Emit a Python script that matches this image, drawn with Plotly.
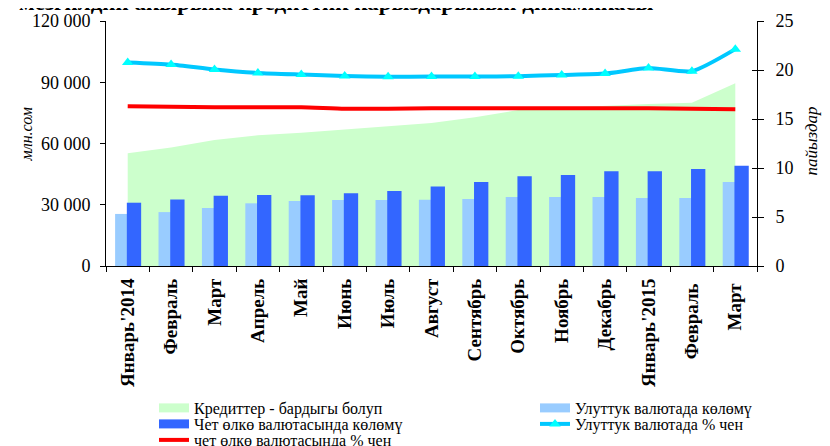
import plotly.graph_objects as go

months = ["Январь'2014", "Февраль", "Март", "Апрель", "Май", "Июнь", "Июль", "Август",
          "Сентябрь", "Октябрь", "Ноябрь", "Декабрь", "Январь'2015", "Февраль ", "Март "]
total_credit = [55200, 58100, 61700, 64000, 65300, 66900, 68200, 70000,
                72800, 76400, 77500, 78500, 79300, 80000, 89500]
national_volume = [25500, 26400, 28400, 30700, 31800, 32300, 32300, 32500,
                   32800, 33800, 33800, 33800, 33300, 33300, 41100]
foreign_volume = [31000, 32600, 34400, 34800, 34600, 35600, 36700, 39000,
                  41100, 43900, 44600, 46400, 46400, 47500, 49100]
national_pct = [20.77, 20.56, 20.05, 19.7, 19.54, 19.4, 19.3, 19.33,
                19.33, 19.36, 19.5, 19.64, 20.2, 19.88, 22.13]
foreign_pct = [16.3, 16.25, 16.2, 16.2, 16.2, 16.05, 16.05, 16.1,
               16.1, 16.1, 16.1, 16.1, 16.1, 16.05, 16.0]
left_ticks = [0, 30000, 60000, 90000, 120000]
left_tick_text = ["0", "30 000", "60 000", "90 000", "120 000"]

names = ["Кредиттер - бардыгы болуп", "Улуттук валютада көлөмү", "Чет өлкө валютасында көлөмү",
         "Улуттук валютада % чен", "чет өлкө валютасында % чен"]

GREEN = "#CCFFCC"
LIGHT = "#99CCFF"
DARK = "#3366FF"
CYAN = "#00C8FF"
RED = "#FF0000"
FONT = "Liberation Serif"

# the page body adds an 8px offset; figure is sized so the plot area lands at
# page x 106..757, y 21..266
OFF = 8
W, H = 830 - OFF, 446 - OFF
L, R, T, B = 106 - OFF, 830 - 757, 21 - OFF, 446 - 266
PW, PH = W - L - R, H - T - B


def px(x):  # page x -> paper
    return (x - OFF - L) / PW


def py(y):  # page y -> paper
    return (H - B - (y - OFF)) / PH


fig = go.Figure()

fig.add_trace(go.Scatter(x=months, y=total_credit, mode="lines", fill="tozeroy",
                         fillcolor=GREEN, line=dict(width=0, color=GREEN),
                         showlegend=False, yaxis="y", hoverinfo="skip"))
fig.add_trace(go.Bar(x=months, y=national_volume, marker=dict(color=LIGHT, line=dict(width=0)),
                     offset=-0.29, width=0.33, showlegend=False, yaxis="y2"))
fig.add_trace(go.Bar(x=months, y=foreign_volume, marker=dict(color=DARK, line=dict(width=0)),
                     offset=-0.02, width=0.33, showlegend=False, yaxis="y2"))
fig.add_trace(go.Scatter(x=months, y=national_pct, mode="lines+markers", name=names[3],
                         line=dict(color=CYAN, width=4, shape="spline", smoothing=0.6),
                         marker=dict(symbol="triangle-up", size=10, color="#00FFFF"),
                         yaxis="y3", legend="legend4"))
fig.add_trace(go.Scatter(x=months, y=foreign_pct, mode="lines", name=names[4],
                         line=dict(color=RED, width=4, shape="spline", smoothing=0.6),
                         yaxis="y3", legend="legend5"))
# right-axis inner ticks carrier
fig.add_trace(go.Scatter(x=[None], y=[None], yaxis="y4", showlegend=False, hoverinfo="skip"))

# legend swatches for the area and bars
for nm, col, lg in [(names[0], GREEN, "legend"), (names[1], LIGHT, "legend2"), (names[2], DARK, "legend3")]:
    fig.add_trace(go.Scatter(x=[None], y=[None], mode="lines", name=nm,
                             line=dict(color=col, width=9), yaxis="y", legend=lg))

row_y = [408, 424, 440]
col_x = [194, 575]


def leg(xt, yc):
    return dict(x=px(xt - 40), y=py(yc), xanchor="left", yanchor="middle",
                orientation="h", bgcolor="rgba(0,0,0,0)",
                font=dict(family=FONT, size=16, color="black"))


fig.update_layout(
    width=W, height=H, margin=dict(l=L, r=R, t=T, b=B, autoexpand=False),
    plot_bgcolor="white", paper_bgcolor="white",
    font=dict(family=FONT, size=18, color="black"),
    barmode="overlay",
    xaxis=dict(type="category", categoryorder="array", categoryarray=months,
               range=[-0.5, len(months) - 0.5],
               tickson="boundaries", ticks="outside", ticklen=5, tickcolor="black",
               showline=True, linecolor="black", linewidth=1, showgrid=False,
               tickangle=-90, tickfont=dict(family=FONT, size=19, color="black", weight="bold"),
               ticklabelstandoff=4, automargin=False, fixedrange=True),
    yaxis=dict(range=[0, 120000], tickvals=left_ticks, ticktext=left_tick_text,
               ticks="outside", ticklen=5, tickcolor="black", showline=True,
               linecolor="black", showgrid=False, zeroline=False, automargin=False,
               tickfont=dict(family=FONT, size=18), ticklabelstandoff=6),
    yaxis2=dict(range=[0, 120000], overlaying="y", visible=False),
    yaxis3=dict(range=[0, 25], overlaying="y", side="right", dtick=5, tick0=0,
                ticks="outside", ticklen=6, tickcolor="black", showline=True,
                linecolor="black", showgrid=False, zeroline=False, automargin=False,
                tickfont=dict(family=FONT, size=18), ticklabelstandoff=8),
    yaxis4=dict(range=[0, 25], overlaying="y", side="right", dtick=5, tick0=0,
                ticks="inside", ticklen=5, tickcolor="black", showline=False,
                showgrid=False, zeroline=False, showticklabels=False, automargin=False),
    legend=leg(col_x[0], row_y[0]),
    legend2=leg(col_x[1], row_y[0]),
    legend3=leg(col_x[0], row_y[1]),
    legend4=leg(col_x[1], row_y[1]),
    legend5=leg(col_x[0], row_y[2]),
    annotations=[
        dict(text="мезгилдин акырына кредиттик карыздарынын динамикасы", xref="paper", yref="paper",
             x=px(17), y=py(2.5), xanchor="left", yanchor="middle", showarrow=False,
             font=dict(family=FONT, size=23, color="black", weight="bold")),
        dict(text="<i>млн.сом</i>", xref="paper", yref="paper", x=px(15), y=py(135),
             textangle=-90, showarrow=False, font=dict(family=FONT, size=16, color="black")),
        dict(text="<i>пайыздар</i>", xref="paper", yref="paper", x=px(822), y=py(141),
             textangle=-90, showarrow=False, font=dict(family=FONT, size=17, color="black")),
    ],
)

fig.write_html("out.html")
